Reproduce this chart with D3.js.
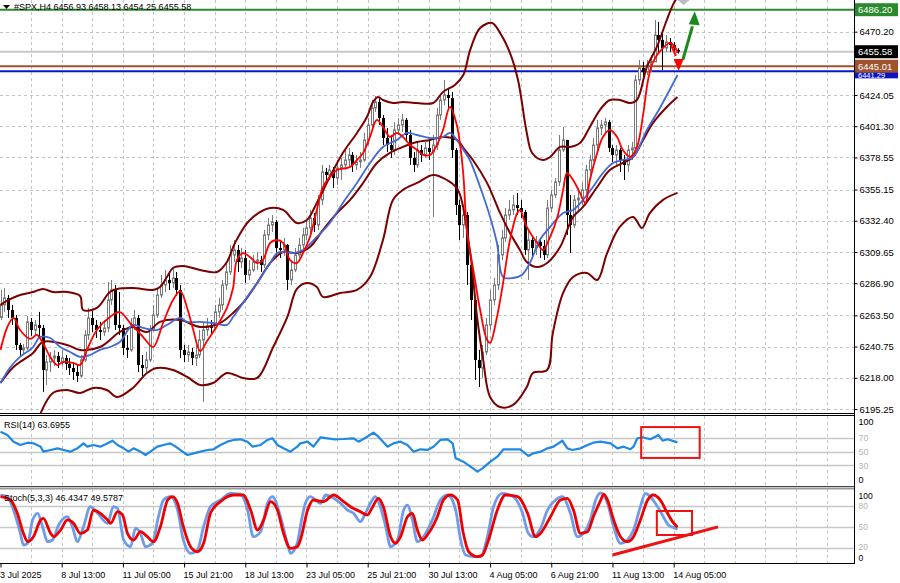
<!DOCTYPE html>
<html><head><meta charset="utf-8">
<script src="https://cdn.jsdelivr.net/npm/d3@7"></script>
<style>body{margin:0;background:#fff}svg{display:block}text{font-family:"Liberation Sans",Arial,sans-serif}</style>
</head><body><svg id="c" width="900" height="583"></svg>
<script>
// ---------- DATA ----------
const title = "#SPX,H4  6456.93 6458.13 6454.25 6455.58";
const opens = [6262.0,6271.1,6276.2,6267.4,6261.6,6241.9,6238.3,6239.7,6258.7,6252.8,
6256.5,6254.3,6223.7,6229.5,6232.4,6233.9,6229.5,6232.4,6228.1,6225.1,
6222.2,6219.3,6231.0,6249.2,6261.6,6256.5,6252.8,6251.4,6254.3,6274.7,
6282.0,6256.5,6254.3,6239.7,6238.3,6256.5,6261.6,6227.3,6225.1,6231.0,
6252.8,6263.8,6278.3,6285.6,6289.3,6287.1,6290.7,6282.0,6238.3,6234.6,
6236.8,6232.4,6234.6,6245.5,6252.8,6255.7,6254.3,6266.0,6271.1,6285.6,
6295.1,6307.5,6311.1,6302.4,6305.3,6292.9,6296.6,6302.4,6303.8,6300.2,
6322.1,6329.3,6331.5,6312.6,6311.1,6314.8,6289.3,6296.6,6307.5,6314.8,
6322.1,6327.2,6334.4,6329.3,6347.6,6368.0,6365.8,6369.4,6363.6,6370.9,
6373.1,6376.7,6380.4,6373.1,6375.3,6376.7,6391.3,6402.2,6414.6,6419.0,
6407.3,6392.7,6387.6,6384.0,6398.6,6402.2,6405.9,6394.9,6378.2,6373.1,
6384.0,6380.4,6385.5,6382.5,6387.6,6409.5,6420.4,6424.1,6421.9,6384.0,
6343.9,6329.3,6336.6,6300.2,6274.7,6231.0,6225.1,6236.8,6256.5,6274.7,
6285.6,6307.5,6319.9,6336.6,6340.3,6343.9,6341.7,6338.8,6311.1,6318.4,
6312.6,6317.0,6314.0,6307.5,6341.7,6351.2,6360.7,6384.0,6391.3,6336.6,
6329.3,6347.6,6349.0,6354.9,6369.4,6376.7,6387.6,6400.0,6402.2,6404.4,
6385.5,6380.4,6384.0,6376.7,6373.1,6384.0,6385.5,6435.0,6443.8,6440.8,
6445.9,6448.1,6467.8,6464.2,6458.3,6462.7,6460.5,6456.93];
const closes = [6271.1,6276.2,6267.4,6261.6,6241.9,6238.3,6239.7,6258.7,6252.8,6256.5,
6254.3,6223.7,6229.5,6232.4,6233.9,6229.5,6232.4,6228.1,6225.1,6222.2,
6219.3,6231.0,6249.2,6261.6,6256.5,6252.8,6251.4,6254.3,6274.7,6282.0,
6256.5,6254.3,6239.7,6238.3,6256.5,6261.6,6227.3,6225.1,6231.0,6252.8,
6263.8,6278.3,6285.6,6289.3,6287.1,6290.7,6282.0,6238.3,6234.6,6236.8,
6232.4,6234.6,6245.5,6252.8,6255.7,6254.3,6266.0,6271.1,6285.6,6295.1,
6307.5,6311.1,6302.4,6305.3,6292.9,6296.6,6302.4,6303.8,6300.2,6322.1,
6329.3,6331.5,6312.6,6311.1,6314.8,6289.3,6296.6,6307.5,6314.8,6322.1,
6327.2,6334.4,6329.3,6347.6,6368.0,6365.8,6369.4,6363.6,6370.9,6373.1,
6376.7,6380.4,6373.1,6375.3,6376.7,6391.3,6402.2,6414.6,6419.0,6407.3,
6392.7,6387.6,6384.0,6398.6,6402.2,6405.9,6394.9,6378.2,6373.1,6384.0,
6380.4,6385.5,6382.5,6387.6,6409.5,6420.4,6424.1,6421.9,6384.0,6343.9,
6329.3,6336.6,6300.2,6274.7,6231.0,6225.1,6236.8,6256.5,6274.7,6285.6,
6307.5,6319.9,6336.6,6340.3,6343.9,6341.7,6338.8,6311.1,6318.4,6312.6,
6317.0,6314.0,6307.5,6341.7,6351.2,6360.7,6384.0,6391.3,6336.6,6329.3,
6347.6,6349.0,6354.9,6369.4,6376.7,6387.6,6400.0,6402.2,6404.4,6385.5,
6380.4,6384.0,6376.7,6373.1,6384.0,6385.5,6435.0,6443.8,6440.8,6445.9,
6448.1,6467.8,6464.2,6458.3,6462.7,6460.5,6458.3,6455.58];
const highs = [6282.0,6283.4,6278.3,6271.1,6263.8,6243.4,6242.6,6263.0,6261.6,6260.1,
6266.0,6256.5,6234.6,6236.8,6238.3,6236.8,6238.3,6234.6,6232.4,6229.5,
6227.3,6234.6,6252.8,6268.9,6267.4,6260.1,6258.7,6260.1,6287.8,6289.3,
6285.6,6280.5,6256.5,6249.2,6261.6,6267.4,6263.8,6234.6,6236.8,6256.5,
6271.1,6283.4,6292.9,6296.6,6295.1,6298.7,6295.1,6285.6,6241.9,6241.9,
6239.7,6241.9,6252.8,6258.7,6261.6,6260.1,6271.1,6276.2,6289.3,6302.4,
6314.8,6318.4,6314.8,6312.6,6311.1,6303.8,6307.5,6309.7,6306.8,6325.7,
6334.4,6336.6,6333.0,6318.4,6319.9,6315.5,6302.4,6312.6,6319.9,6327.2,
6333.0,6340.3,6338.1,6351.2,6373.1,6370.9,6373.1,6371.6,6376.7,6378.2,
6384.0,6385.5,6382.5,6380.4,6382.5,6396.4,6407.3,6420.4,6423.3,6421.9,
6409.5,6400.0,6394.9,6404.4,6407.3,6410.2,6407.3,6398.6,6382.5,6389.8,
6387.6,6389.8,6391.3,6394.9,6414.6,6424.1,6435.0,6429.2,6426.3,6385.5,
6347.6,6343.9,6338.8,6302.4,6276.2,6238.3,6241.9,6261.6,6282.0,6290.7,
6314.8,6325.7,6341.7,6347.6,6351.2,6352.7,6347.6,6340.3,6325.7,6321.3,
6321.3,6319.9,6318.4,6347.6,6354.9,6363.6,6394.9,6400.8,6391.3,6351.2,
6351.2,6356.3,6360.0,6373.1,6380.4,6392.7,6405.9,6405.9,6407.3,6405.9,
6387.6,6387.6,6385.5,6380.4,6387.6,6389.8,6438.6,6449.6,6448.1,6449.6,
6453.2,6478.7,6477.3,6470.0,6467.8,6465.6,6462.7,6458.13];
const lows = [6260.1,6266.0,6261.6,6256.5,6238.3,6233.9,6234.6,6238.3,6248.5,6249.2,
6247.7,6207.7,6212.8,6222.2,6226.6,6225.1,6226.6,6223.7,6220.0,6216.4,
6214.9,6217.9,6229.5,6245.5,6251.4,6247.0,6245.5,6248.5,6251.4,6271.1,
6252.8,6249.2,6234.6,6232.4,6236.8,6252.8,6222.2,6219.3,6222.2,6229.5,
6251.4,6261.6,6276.2,6280.5,6282.0,6283.4,6277.6,6232.4,6229.5,6229.5,
6227.3,6226.6,6232.4,6200.4,6248.5,6249.2,6252.8,6261.6,6267.4,6282.0,
6292.9,6302.4,6295.1,6298.0,6287.1,6289.3,6295.1,6296.6,6295.1,6298.0,
6318.4,6324.2,6307.5,6305.3,6306.8,6282.0,6285.6,6295.1,6305.3,6311.1,
6318.4,6321.3,6324.2,6325.7,6343.9,6360.7,6362.1,6356.3,6358.5,6362.1,
6369.4,6370.9,6368.0,6369.4,6370.9,6375.3,6387.6,6400.0,6411.7,6402.2,
6387.6,6382.5,6378.2,6380.4,6394.9,6397.1,6389.8,6373.1,6368.0,6370.9,
6375.3,6378.2,6376.7,6335.2,6384.0,6405.9,6416.8,6413.1,6378.2,6336.6,
6318.4,6319.9,6285.6,6260.1,6216.4,6211.3,6217.9,6234.6,6252.8,6271.1,
6282.0,6303.8,6317.0,6333.0,6336.6,6336.6,6334.4,6307.5,6289.3,6305.3,
6307.5,6305.3,6303.8,6305.3,6338.8,6349.0,6357.8,6382.5,6322.1,6308.9,
6327.2,6340.3,6343.9,6351.2,6365.8,6375.3,6384.0,6394.9,6397.1,6382.5,
6375.3,6373.1,6368.0,6362.1,6368.0,6376.7,6384.0,6431.4,6436.5,6438.6,
6440.8,6448.1,6455.4,6442.3,6455.4,6455.4,6454.7,6454.25];

// indicator lines: [bar index, value]
const bbUpper = [[0,6271.1],[2.1,6274.7],[5.1,6278.3],[8.5,6280.5],[11.1,6282.7],[13.7,6280.5],[17.4,6280.5],[20.8,6277.6],[21.6,6267.4],[25.2,6268.9],[28.6,6280.5],[30.5,6282.7],[34.6,6283.4],[39.9,6282.0],[41.7,6284.2],[43.5,6291.4],[45.1,6298.0],[47.7,6299.5],[52.2,6296.6],[56.6,6295.1],[59.2,6302.4],[61.3,6316.2],[65.2,6333.0],[70.5,6341.7],[73.9,6340.3],[77.5,6330.8],[80.1,6333.0],[82.7,6345.4],[86.1,6364.3],[89.5,6381.8],[93.2,6396.4],[95.8,6408.0],[97.4,6419.0],[98.7,6422.6],[100,6420.4],[102.6,6418.2],[105.2,6419.0],[108.9,6418.2],[113.1,6418.2],[115.7,6426.3],[118.8,6431.4],[121,6438.6],[122.8,6456.9],[125.4,6472.9],[128.5,6476.5],[130.6,6469.3],[133.2,6454.7],[135.3,6435.0],[137.6,6396.4],[139,6381.8],[141.8,6376.7],[143.7,6378.9],[146.3,6386.2],[148.9,6386.2],[151.5,6389.1],[154.1,6400.8],[156.7,6413.1],[159.3,6420.4],[161.9,6420.4],[164.6,6418.2],[166.4,6420.4],[169,6444.5],[171.6,6459.1],[174.2,6478.7],[175.8,6489.7],[177,6495.5]];
const bbMiddle = [[0,6214.2],[3.4,6225.9],[8.5,6236.1],[11.1,6244.1],[17.4,6241.9],[20.8,6238.3],[26.0,6240.4],[31.2,6251.4],[34.6,6255.0],[38.3,6251.4],[41.7,6258.7],[47.0,6260.1],[52.2,6255.0],[57.4,6257.9],[60.8,6265.2],[63.4,6272.5],[67.1,6287.1],[70.5,6301.6],[73.9,6309.7],[77.5,6308.9],[80.9,6313.3],[84.3,6325.7],[88,6338.1],[91.4,6347.6],[94.8,6359.9],[98.4,6374.5],[101.8,6381.8],[105.2,6386.2],[108.9,6389.8],[112.3,6391.3],[115.7,6393.5],[119.3,6391.3],[121.4,6384.0],[123.5,6376.7],[127.2,6360.0],[130.6,6338.1],[133.2,6323.5],[135.8,6311.1],[137.6,6302.4],[140.3,6298.7],[142.9,6301.6],[146.3,6313.3],[149.7,6335.2],[152.3,6342.5],[156,6357.0],[159.3,6369.4],[162.7,6374.5],[165.4,6378.9],[168,6391.3],[170.6,6403.7],[174.2,6415.3],[177,6422.6]];
const bbLower = [[10.5,6192.3],[13.7,6206.9],[17.4,6209.1],[20.8,6206.9],[24.3,6210.6],[27.8,6209.1],[30.5,6204.0],[34.6,6210.6],[38.3,6221.5],[40.9,6225.1],[45.1,6223.7],[48.8,6218.6],[52.2,6212.8],[55.6,6214.2],[59.2,6221.5],[63.4,6217.9],[67.1,6217.9],[71.3,6240.4],[75,6262.3],[77.5,6282.7],[80.1,6287.1],[82.7,6284.2],[84.3,6276.9],[88.8,6279.8],[93.2,6282.0],[96.6,6291.4],[100,6318.4],[102.6,6347.6],[105.2,6354.9],[108.9,6360.0],[113.1,6365.8],[116.7,6362.1],[119.6,6354.9],[122.7,6311.1],[124.6,6262.3],[126.2,6231.0],[128,6204.0],[130.6,6196.7],[134,6198.2],[137.6,6211.3],[139.2,6221.5],[142.9,6223.7],[144.4,6250.6],[147.1,6279.8],[149.7,6291.4],[153.3,6294.4],[156,6289.3],[158.6,6308.9],[161.9,6327.9],[165.4,6335.2],[167.7,6327.2],[169.8,6338.1],[173.2,6347.6],[177,6352.7]];
const maFast = [[0,6238.3],[1.8,6255.0],[3.4,6261.6],[5.1,6252.8],[7.8,6246.3],[9.5,6249.2],[11.1,6243.4],[13,6233.2],[14.8,6227.3],[16.4,6229.5],[19,6228.8],[20.8,6227.3],[22.6,6238.3],[25.2,6252.8],[28.6,6262.3],[31.2,6265.9],[33.9,6257.9],[37.3,6247.7],[39.9,6240.4],[42.5,6257.9],[45.1,6274.7],[47,6281.2],[48.8,6268.9],[50.4,6252.8],[52.2,6237.5],[54,6244.8],[56.6,6255.7],[59.2,6268.9],[60.8,6283.4],[61.8,6303.8],[63.4,6308.9],[65.2,6306.0],[67.1,6301.6],[68.6,6303.8],[70.5,6316.2],[72.3,6318.4],[73.9,6316.2],[75.7,6303.8],[77.5,6301.6],[79.1,6308.9],[80.9,6320.6],[82.7,6340.3],[84.3,6357.0],[86.1,6364.3],[88,6369.4],[91.4,6371.6],[93.2,6376.7],[94.8,6381.8],[96.6,6393.5],[98.4,6405.9],[100,6400.8],[101.8,6393.5],[103.6,6396.4],[105.2,6393.5],[107.1,6387.6],[108.9,6384.0],[110.5,6380.4],[112.3,6380.4],[114.1,6387.6],[115.7,6398.6],[117.5,6415.3],[119.3,6402.2],[120.9,6369.4],[122,6323.5],[123.5,6298.7],[125.4,6267.4],[127.2,6245.5],[128,6243.4],[129.8,6262.3],[131.4,6287.1],[133.2,6318.4],[135.1,6338.1],[135.8,6340.3],[137.6,6327.9],[140.3,6316.2],[141.8,6311.1],[143.7,6320.6],[145.6,6335.2],[147.1,6354.9],[148.1,6367.2],[149.7,6362.1],[151.5,6352.7],[152.9,6345.4],[154.1,6362.1],[156,6381.8],[157.5,6393.5],[159.3,6398.6],[161.2,6393.5],[162.7,6384.0],[164.6,6378.9],[166.4,6386.2],[168,6409.5],[169.3,6435.0],[170.6,6448.1],[173.2,6458.3],[175,6462.0],[176.3,6459.1],[177,6454.7]];
const maSlow = [[0,6214.2],[2.6,6225.9],[5.1,6233.2],[8.5,6240.4],[10.3,6247.7],[13,6247.0],[15.6,6240.4],[18.2,6236.8],[20.8,6233.2],[23.4,6234.6],[26,6238.3],[28.6,6240.4],[31.2,6244.1],[34.6,6256.5],[37.3,6254.3],[40.9,6252.8],[43.5,6256.5],[47,6261.6],[48.8,6258.7],[52.2,6258.7],[55.6,6257.9],[59.2,6256.5],[60.8,6262.3],[63.4,6272.5],[67.1,6287.1],[70.5,6301.6],[72.3,6308.9],[73.9,6309.7],[76.5,6308.9],[79.1,6311.1],[82.7,6320.6],[86.1,6330.8],[89.5,6345.4],[93.2,6360.0],[96.6,6374.5],[100,6386.2],[103.6,6391.3],[106.3,6396.4],[108.9,6394.9],[112.3,6392.7],[115.7,6393.5],[117.5,6396.4],[119.3,6391.3],[121.4,6382.5],[122.7,6376.7],[125.4,6357.0],[128,6335.2],[129.8,6316.2],[131.4,6291.4],[134,6290.7],[136.3,6292.9],[138.4,6301.6],[141,6318.4],[143.7,6327.9],[147.1,6338.1],[149.7,6340.3],[152.3,6347.6],[154.9,6357.0],[157.5,6367.2],[160.1,6374.5],[162.7,6376.7],[165.4,6378.9],[169,6398.6],[172.4,6414.6],[177,6438.6]];
const rsi = [[0,79.3],[1.8,74.5],[3.4,64.7],[5.2,59.9],[7.1,63.2],[8.6,62.3],[10.5,57.4],[11.2,50.1],[13.1,52.6],[14.9,55.0],[16.5,52.6],[18.3,50.1],[20.1,55.0],[21.7,62.3],[22.7,57.4],[24.3,59.9],[26.1,57.4],[28,62.3],[29.3,66.1],[30.6,59.9],[32.2,55.0],[33.5,50.1],[34.8,55.0],[36.6,50.1],[37.9,45.3],[39.2,50.1],[41,57.4],[42.6,59.9],[44.4,62.3],[45.8,57.4],[47.6,50.1],[48.9,45.3],[50.5,47.7],[52.3,50.1],[54.1,52.6],[55.7,53.6],[57.5,59.9],[59.3,64.7],[60.9,67.2],[62.7,68.2],[64.6,64.7],[65.9,57.4],[68,59.9],[69.8,67.2],[71.1,69.6],[72.4,59.9],[74,55.0],[75.8,50.1],[77.6,57.4],[78.4,62.3],[80.3,64.7],[81.8,57.4],[83.7,71.1],[85.5,69.6],[87.1,68.2],[89.7,68.6],[92.3,69.6],[93.6,64.7],[95.9,72.0],[97.5,77.8],[98.8,72.0],[101.2,57.4],[102.7,62.3],[104.6,64.7],[106.4,59.9],[108,50.1],[109.8,53.6],[111.6,52.6],[113.2,57.4],[115,67.2],[116.9,68.2],[118.2,62.3],[119,40.4],[121,35.5],[122.9,28.2],[124.7,20.9],[126,25.8],[128.1,35.5],[129.9,42.8],[131.5,53.6],[133.3,53.6],[135.9,53.6],[138,43.8],[139.3,47.7],[141.2,50.1],[143,55.0],[144.6,57.4],[146.9,66.1],[148.2,55.0],[149.5,52.6],[151.6,55.0],[153.5,59.9],[155,63.2],[156.9,64.7],[159.5,62.3],[161.3,55.0],[162.9,57.4],[164.7,53.6],[165.5,57.4],[166.5,69.6],[167.8,71.1],[169.9,68.2],[171.2,72.0],[172,74.5],[173.1,66.1],[174.4,68.2],[177,63.6955]];
const stochMain = [[0,95.8],[1.8,93.4],[3.4,74.2],[5.2,40.7],[6,23.9],[7.1,26.3],[8.4,59.9],[9.7,69.5],[11,50.2],[12.3,28.6],[13.6,31.1],[15.2,52.7],[17.5,64.6],[18.8,50.2],[20.1,28.6],[21.7,50.2],[23.5,79.0],[25.4,69.5],[28,55.1],[29.5,79.0],[30.6,76.6],[32.2,31.1],[34,21.4],[35.3,47.8],[36.6,40.7],[37.9,21.4],[39.7,26.3],[41.3,64.6],[42.6,88.6],[44.4,93.4],[46.3,74.2],[47.8,31.1],[49.7,11.9],[51.5,16.7],[53.1,50.2],[54.9,79.0],[57.5,88.6],[60.1,98.3],[62.7,97.0],[64.6,74.2],[66.1,35.8],[68,43.0],[69.8,83.9],[71.1,93.4],[73.2,64.6],[75,26.3],[75.8,11.9],[77.6,26.3],[78.4,50.2],[79.7,83.9],[81,93.4],[83.7,83.9],[85,95.8],[87.1,91.1],[88.9,83.9],[90.7,74.2],[92.3,69.5],[94.1,57.5],[95.4,69.5],[96.7,83.9],[98,93.4],[99.3,79.0],[100.7,50.2],[102,21.4],[103.8,31.1],[105.4,74.2],[106.4,81.4],[107.7,59.9],[109,28.6],[110.6,35.8],[112.9,59.9],[115,88.6],[116.9,95.8],[119,74.2],[120.3,31.1],[121.6,9.5],[123.7,7.1],[125.5,7.1],[127.3,35.8],[128.9,79.0],[131.2,98.3],[134.1,93.4],[136.5,69.5],[138,40.7],[139.3,35.8],[141.2,47.8],[143,74.2],[145.1,88.6],[146.9,93.4],[149,69.5],[150.8,35.8],[152.4,40.7],[154.2,59.9],[155.6,88.6],[156.9,99.0],[158.7,83.9],[160.3,50.2],[162.1,26.3],[163.9,31.1],[165.5,45.4],[167.3,79.0],[168.6,98.3],[169.9,93.4],[171.8,79.0],[173.3,64.6],[174.6,52.7],[176.5,47.8],[177,46.4347]];
const stochSignal = [[0,93.4],[2.6,88.6],[4.4,69.5],[6,40.7],[7.1,28.6],[8.6,35.8],[10.5,59.9],[11.2,62.3],[13.1,40.7],[13.9,35.8],[15.7,45.4],[17.5,59.9],[19.1,55.1],[20.9,40.7],[22.7,45.4],[24.3,74.2],[26.1,69.5],[28,59.9],[28.8,55.1],[30.6,71.8],[31.9,67.1],[33.2,40.7],[34.8,31.1],[36.6,43.0],[38.4,35.8],[40,28.6],[41.8,50.2],[43.7,88.6],[45,93.4],[46.3,83.9],[47.8,50.2],[49.7,21.4],[51.5,14.2],[53.1,26.3],[54.9,69.5],[57.5,86.2],[60.9,95.8],[63.5,95.8],[65.4,74.2],[67.2,45.4],[68.8,59.9],[70.6,86.2],[72.4,74.2],[74,40.7],[75.8,19.1],[77.6,21.4],[78.4,31.1],[80.3,74.2],[81.8,88.6],[84.4,86.2],[87.1,95.8],[89.7,86.2],[91.5,79.0],[94.1,71.8],[95.9,67.1],[97.3,79.0],[98.8,91.1],[100.1,79.0],[102,35.8],[103.3,26.3],[104.6,35.8],[106.4,64.6],[107.7,69.5],[109,45.4],[110.3,31.1],[111.9,40.7],[114.2,64.6],[115.8,88.6],[117.6,95.8],[119.5,88.6],[121,40.7],[122.4,14.2],[124.7,7.1],[126,9.5],[127.6,31.1],[129.9,74.2],[132,95.8],[135.2,93.4],[137.8,69.5],[139.9,35.8],[141.2,40.7],[143.8,64.6],[146.4,88.6],[148.2,91.1],[149.8,74.2],[151.6,40.7],[153.5,43.0],[155,64.6],[156.9,88.0],[157.7,97.0],[158.7,88.6],[160.3,59.9],[162.1,35.8],[163.9,28.6],[165.5,35.8],[167.3,59.9],[169.2,88.6],[170.7,95.8],[172.5,88.6],[174.4,69.5],[175.7,57.5],[177,49.5787]];

const priceTicks = [6470.20,6424.05,6401.30,6378.55,6355.15,6332.40,6309.65,6286.90,6263.50,6240.75,6218.00,6195.25];
const levels = [
  {price:6486.20, color:"#2b8a2b", label:"6486.20"},
  {price:6455.58, color:"#c8c8c8", label:"6455.58", box:"#000"},
  {price:6441.29, color:"#0a14c8", label:"6441.29", under:true},
  {price:6445.01, color:"#a0522d", label:"6445.01"}
];
const dateIdx = [0,16,32,48,64,80,96,112,128,144,160,176];
const dateLabels = ["3 Jul 2025","8 Jul 13:00","11 Jul 05:00","15 Jul 21:00","18 Jul 13:00","23 Jul 05:00","25 Jul 21:00","30 Jul 13:00","4 Aug 05:00","6 Aug 21:00","11 Aug 13:00","14 Aug 05:00"];
const rsiLevels = [70,50,30];
const stochLevels = [80,50,20];

// ---------- SCALES ----------
const svg = d3.select('#c');
const RIGHT = 854;
const X = d3.scaleLinear().domain([0,177]).range([0.5,677.5]);
const Y = d3.scaleLinear().domain([6195.25,6486.2]).range([409,9.7]);
const YR = d3.scaleLinear().domain([0,100]).range([486,417.5]);
const YS = d3.scaleLinear().domain([0,100]).range([561.6,492.1]);
const panels = {main:[0,413], rsi:[416,486], st:[489,563]};

const defs = svg.append('defs');
Object.entries(panels).forEach(([k,[a,b]])=>{
  defs.append('clipPath').attr('id','clip-'+k).append('rect').attr('x',0).attr('y',a).attr('width',RIGHT).attr('height',b-a);
});

// ---------- GRID ----------
const grid = svg.append('g');
const vIdx = d3.range(8, 224, 8);
Object.values(panels).forEach(([a,b])=>{
  grid.selectAll(null).data(vIdx.filter(i=>X(i)<RIGHT-1)).join('line')
    .attr('x1',i=>Math.round(X(i))+0.5).attr('x2',i=>Math.round(X(i))+0.5)
    .attr('y1',a).attr('y2',b)
    .attr('stroke','#c4c4c4').attr('stroke-dasharray','3,3').attr('stroke-width',1);
});
grid.selectAll(null).data(priceTicks).join('line')
  .attr('x1',0).attr('x2',RIGHT).attr('y1',d=>Math.round(Y(d))+0.5).attr('y2',d=>Math.round(Y(d))+0.5)
  .attr('stroke','#c4c4c4').attr('stroke-dasharray','3,3');
grid.selectAll(null).data(rsiLevels).join('line')
  .attr('x1',0).attr('x2',RIGHT).attr('y1',d=>Math.round(YR(d))+0.5).attr('y2',d=>Math.round(YR(d))+0.5)
  .attr('stroke','#c8c8c8').attr('stroke-width',1.3);
grid.selectAll(null).data(stochLevels).join('line')
  .attr('x1',0).attr('x2',RIGHT).attr('y1',d=>Math.round(YS(d))+0.5).attr('y2',d=>Math.round(YS(d))+0.5)
  .attr('stroke','#c8c8c8').attr('stroke-width',1.3);

// ---------- MAIN PANEL ----------
const main = svg.append('g').attr('clip-path','url(#clip-main)');
main.selectAll(null).data(levels).join('line')
  .attr('x1',0).attr('x2',RIGHT).attr('y1',d=>Y(d.price)).attr('y2',d=>Y(d.price))
  .attr('stroke',d=>d.color).attr('stroke-width',2);

const idx = d3.range(closes.length);
const cg = main.append('g');
const bull = i => closes[i] >= opens[i];
cg.selectAll('line.w').data(idx).join('line').attr('class','w')
  .attr('x1',i=>Math.round(X(i))+0.5).attr('x2',i=>Math.round(X(i))+0.5)
  .attr('y1',i=>Y(Math.max(highs[i],opens[i],closes[i]))).attr('y2',i=>Y(Math.min(lows[i],opens[i],closes[i])))
  .attr('stroke',i=>bull(i)?'#7a7a7a':'#000').attr('stroke-width',1);
cg.selectAll('rect.b').data(idx).join('rect').attr('class','b')
  .attr('x',i=>bull(i)?Math.round(X(i))-0.5:Math.round(X(i))-1)
  .attr('width',i=>bull(i)?2:3)
  .attr('y',i=>Y(Math.max(opens[i],closes[i])))
  .attr('height',i=>Math.max(1,Y(Math.min(opens[i],closes[i]))-Y(Math.max(opens[i],closes[i]))))
  .attr('fill',i=>bull(i)?'#fff':'#000')
  .attr('stroke',i=>bull(i)?'#7a7a7a':'none').attr('stroke-width',1);

const lineP = d3.line().x(d=>X(d[0])).y(d=>Y(d[1])).curve(d3.curveCatmullRom.alpha(0.5));
[[bbUpper,'#7b0000',2],[bbMiddle,'#7b0000',2],[bbLower,'#7b0000',2],[maSlow,'#4169d8',1.8],[maFast,'#ff0000',1.8]]
 .forEach(([d,c,w])=>main.append('path').attr('d',lineP(d)).attr('fill','none').attr('stroke',c).attr('stroke-width',w));

// arrows (annotation, in data coords)
const gA = main.append('g');
gA.append('line').attr('x1',X(178.4)).attr('y1',Y(6449.6)).attr('x2',X(180.9)).attr('y2',Y(6474.0))
  .attr('stroke','#1a8a1a').attr('stroke-width',3);
{ const tx=X(181.5), ty=Y(6485.0);
  gA.append('path').attr('d',`M${tx},${ty} L${tx-6},${ty+13} L${tx+5},${ty+14} Z`).attr('fill','#1a8a1a'); }
gA.append('line').attr('x1',X(175.3)).attr('y1',Y(6460.5)).attr('x2',X(176.6)).attr('y2',Y(6452.5))
  .attr('stroke','#ff0000').attr('stroke-width',2);
{ const tx=X(177.3), ty=Y(6441.5);
  gA.append('path').attr('d',`M${tx},${ty} L${tx-5},${ty-12} L${tx+5},${ty-12} Z`).attr('fill','#ff0000'); }
{ const tx=X(178.6);
  gA.append('path').attr('d',`M${tx-6},0 L${tx},5 L${tx+6},0 Z`).attr('fill','#bdbdbd'); }

// title
svg.append('path').attr('d','M3,5 L10,5 L6.5,9 Z').attr('fill','#000');
svg.append('text').attr('x',14).attr('y',10).attr('font-size',9).attr('fill','#000').text(title);

// ---------- RSI PANEL ----------
const rg = svg.append('g').attr('clip-path','url(#clip-rsi)');
const lineR = d3.line().x(d=>X(d[0])).y(d=>YR(d[1])).curve(d3.curveLinear);
rg.append('path').attr('d',lineR(rsi)).attr('fill','none').attr('stroke','#1e88e5').attr('stroke-width',2.2).attr('stroke-linejoin','round');
svg.append('text').attr('x',4).attr('y',427.5).attr('font-size',9).text('RSI(14) 63.6955');
svg.append('rect').attr('x',X(167.5)).attr('y',YR(86)).attr('width',X(182.8)-X(167.5)).attr('height',YR(41)-YR(86))
  .attr('fill','none').attr('stroke','#ee1111').attr('stroke-width',2);

// ---------- STOCH PANEL ----------
const sg = svg.append('g').attr('clip-path','url(#clip-st)');
const lineS = d3.line().x(d=>X(d[0])).y(d=>YS(d[1])).curve(d3.curveMonotoneX);
sg.append('path').attr('d',lineS(stochMain)).attr('fill','none').attr('stroke','#6f9be8').attr('stroke-width',2.8);
sg.append('path').attr('d',lineS(stochSignal)).attr('fill','none').attr('stroke','#ee0000').attr('stroke-width',2.8);
svg.append('text').attr('x',4).attr('y',501).attr('font-size',9).text('Stoch(5,3,3) 46.4347 49.5787');
svg.append('rect').attr('x',X(171.6)).attr('y',YS(72.8)).attr('width',X(180.8)-X(171.6)).attr('height',YS(38.3)-YS(72.8))
  .attr('fill','none').attr('stroke','#ee1111').attr('stroke-width',2);
svg.append('line').attr('x1',X(160)).attr('y1',YS(9.5)).attr('x2',X(187.6)).attr('y2',YS(49.9))
  .attr('stroke','#ee1111').attr('stroke-width',3);

// ---------- FRAMES ----------
const fr = svg.append('g').attr('stroke','#000').attr('stroke-width',1);
fr.append('line').attr('x1',0).attr('x2',RIGHT).attr('y1',413.5).attr('y2',413.5);
fr.append('line').attr('x1',0).attr('x2',RIGHT).attr('y1',415.5).attr('y2',415.5);
fr.append('line').attr('x1',0).attr('x2',RIGHT).attr('y1',486.5).attr('y2',486.5).attr('stroke','#444');
fr.append('line').attr('x1',0).attr('x2',RIGHT).attr('y1',488.5).attr('y2',488.5).attr('stroke','#9a9a9a').attr('stroke-width',2);
fr.append('line').attr('x1',0).attr('x2',RIGHT).attr('y1',563.5).attr('y2',563.5);
fr.append('line').attr('x1',RIGHT+0.5).attr('x2',RIGHT+0.5).attr('y1',0).attr('y2',564);

// ---------- AXES ----------
const pAxis = svg.append('g').attr('transform',`translate(${RIGHT+0.5},0)`)
  .call(d3.axisRight(Y).tickValues(priceTicks).tickFormat(d3.format('.2f')).tickSize(3).tickPadding(2));
pAxis.select('.domain').remove();
pAxis.selectAll('text').attr('font-size',9.5).attr('font-family','"Liberation Sans",Arial,sans-serif').attr('fill','#000');

// level labels (the blue one sits partly under the brown one, as in the original)
const lv = svg.append('g');
levels.forEach(l=>{
  const bg = l.box || l.color;
  if (l.under) {
    lv.append('rect').attr('x',RIGHT+1).attr('y',Y(l.price)-6).attr('width',43).attr('height',13).attr('fill',bg);
    lv.append('text').attr('x',RIGHT+4).attr('y',Y(l.price)+4).attr('dy','0.35em').attr('font-size',7.5).attr('fill','#fff').text(l.label);
  } else {
    lv.append('rect').attr('x',RIGHT+1).attr('y',Y(l.price)-6.5).attr('width',43).attr('height',13).attr('fill',bg);
    lv.append('text').attr('x',RIGHT+4).attr('y',Y(l.price)).attr('dy','0.35em').attr('font-size',9.5).attr('fill','#fff').text(l.label);
  }
});

const rAxis = svg.append('g').attr('transform',`translate(${RIGHT+0.5},0)`);
const rTicks = [100,70,50,30,0];
rAxis.selectAll('text').data(rTicks).join('text')
  .attr('x',4).attr('y',d=>d===100?YR(94):d===0?YR(8.5):YR(d)).attr('dy','0.35em').attr('font-size',9)
  .attr('fill',d=>(d===100||d===0)?'#000':'#b4b4b4').text(d=>d);
const sAxis = svg.append('g').attr('transform',`translate(${RIGHT+0.5},0)`);
const sTicks = [100,80,50,20,0];
sAxis.selectAll('text').data(sTicks).join('text')
  .attr('x',4).attr('y',d=>d===100?YS(95):d===0?YS(5.5):YS(d===20?21.5:d)).attr('dy','0.35em').attr('font-size',8.5)
  .attr('fill',d=>(d===100||d===0)?'#000':'#b4b4b4').text(d=>d);

const dAxis = svg.append('g').attr('transform','translate(0,563.5)')
  .call(d3.axisBottom(X).tickValues(dateIdx).tickFormat((d,i)=>dateLabels[i]).tickSize(4).tickPadding(4));
dAxis.select('.domain').remove();
dAxis.selectAll('text').attr('text-anchor','start').attr('dx',-1).attr('font-size',9).attr('font-family','"Liberation Sans",Arial,sans-serif').attr('fill','#000');
</script></body></html>
